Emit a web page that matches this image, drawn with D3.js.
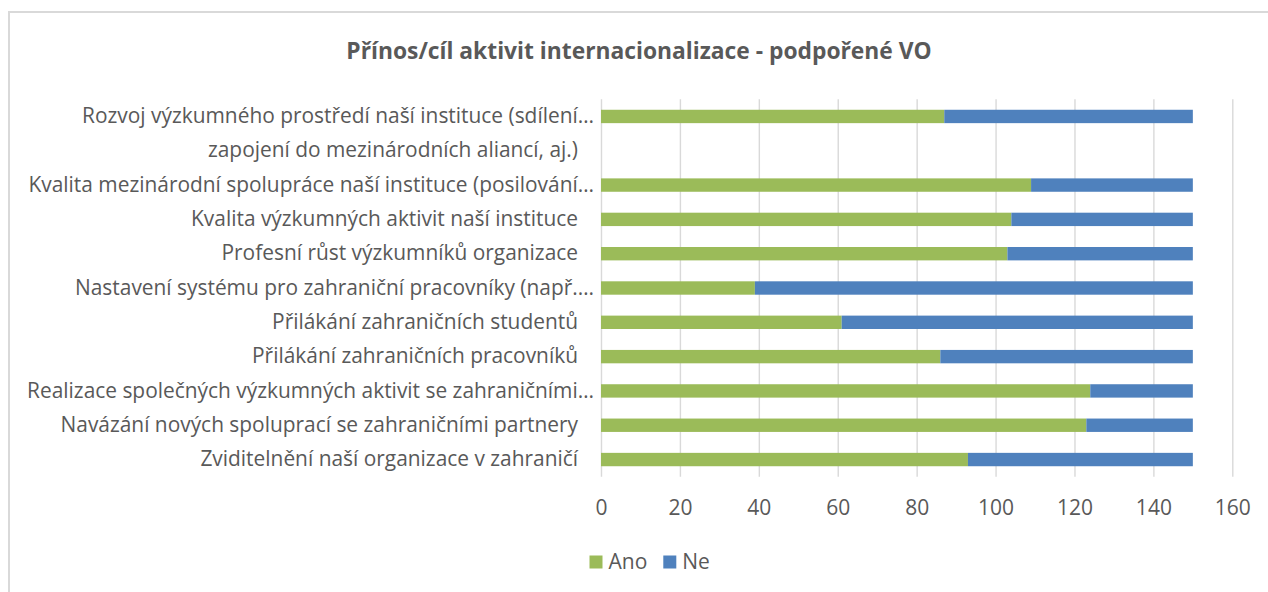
<!DOCTYPE html>
<html>
<head>
<meta charset="utf-8" />
<script src="https://d3js.org/d3.v7.min.js"></script>
<style>
  body { margin: 0; background: #fff; }
  svg { display: block; }
  .cat text { font-family: "Open Sans", sans-serif; font-size: 20.9px; fill: #595959; }
  .ticks text { font-family: "Open Sans", sans-serif; font-size: 21px; fill: #595959; }
  .ticks line { stroke: #d9d9d9; stroke-width: 1.4; }
</style>
</head>
<body>
<div id="chart"></div>
<script>

// data (top row first)
var categories = [
  "Rozvoj výzkumného prostředí naší instituce (sdílení…",
  "zapojení do mezinárodních aliancí, aj.)",
  "Kvalita mezinárodní spolupráce naší instituce (posilování…",
  "Kvalita výzkumných aktivit naší instituce",
  "Profesní růst výzkumníků organizace",
  "Nastavení systému pro zahraniční pracovníky (např.…",
  "Přilákání zahraničních studentů",
  "Přilákání zahraničních pracovníků",
  "Realizace společných výzkumných aktivit se zahraničními…",
  "Navázání nových spoluprací se zahraničními partnery",
  "Zviditelnění naší organizace v zahraničí"
];
var ano = [87, 0, 109, 104, 103, 39, 61, 86, 124, 123, 93];
var ne  = [63, 0, 41, 46, 47, 111, 89, 64, 26, 27, 57];
var series = ["Ano", "Ne"];
var colors = ["#9bbb59", "#4f81bd"];
var xTicks = [0, 20, 40, 60, 80, 100, 120, 140, 160];
var title = "Přínos/cíl aktivit internacionalizace - podpořené VO";

var W = 1268, H = 592;
var plot = {left: 601, right: 1232.3, top: 99.3, bottom: 476.7};

var svg = d3.select("#chart").append("svg")
  .attr("width", W)
  .attr("height", H);

// chart frame (only top & left edges are in view)
svg.append("rect")
  .attr("x", 9).attr("y", 12)
  .attr("width", W + 50).attr("height", H + 50)
  .attr("fill", "none")
  .attr("stroke", "#d9d9d9")
  .attr("stroke-width", 2);

svg.append("text")
  .attr("x", 639)
  .attr("y", 58.5)
  .attr("text-anchor", "middle")
  .style("font-family", "'Open Sans', sans-serif")
  .style("font-weight", "bold")
  .style("font-size", "22.8px")
  .style("fill", "#595959")
  .text(title);

var x = d3.scaleLinear()
  .domain([0, 160])
  .range([plot.left, plot.right]);

var y = d3.scaleBand()
  .domain(categories)
  .range([plot.top, plot.bottom])
  .paddingInner(0.61)
  .paddingOuter(0.305);

var color = d3.scaleOrdinal().domain(series).range(colors);

// x axis + vertical gridlines
svg.append("g")
  .attr("class", "ticks")
  .attr("transform", "translate(0," + plot.bottom + ")")
  .call(d3.axisBottom(x)
    .tickValues(xTicks)
    .tickSize(-(plot.bottom - plot.top))
    .tickPadding(23))
  .call(function(g) { g.select(".domain").remove(); });

// stacked bars
var table = categories.map(function(c, i) {
  return {cat: c, Ano: ano[i], Ne: ne[i]};
});
var stacked = d3.stack().keys(series)(table);

svg.append("g")
  .selectAll("g")
  .data(stacked)
  .enter().append("g")
  .attr("fill", function(d) { return color(d.key); })
  .selectAll("rect")
  .data(function(d) { return d; })
  .enter().append("rect")
  .attr("x", function(d) { return x(d[0]); })
  .attr("y", function(d) { return y(d.data.cat); })
  .attr("width", function(d) { return x(d[1]) - x(d[0]); })
  .attr("height", y.bandwidth());

// category labels
svg.append("g")
  .attr("class", "cat")
  .attr("transform", "translate(" + plot.left + ",0)")
  .call(d3.axisLeft(y).tickSize(0).tickPadding(7))
  .call(function(g) { g.select(".domain").remove(); })
  .selectAll("text")
  .attr("dx", function(d) { return d.endsWith("…") ? 0 : -16; });

// legend
var legend = svg.append("g").attr("transform", "translate(589.5,555.5)");
var lx = 0;
series.forEach(function(s) {
  var item = legend.append("g").attr("transform", "translate(" + lx + ",0)");
  item.append("rect")
    .attr("width", 13).attr("height", 13)
    .attr("fill", color(s));
  var t = item.append("text")
    .attr("x", 19)
    .attr("y", 13)
    .style("font-family", "'Open Sans', sans-serif")
    .style("font-size", "21px")
    .style("fill", "#595959")
    .text(s);
  lx += 19 + t.node().getComputedTextLength() + 16;
});

</script>
</body>
</html>
